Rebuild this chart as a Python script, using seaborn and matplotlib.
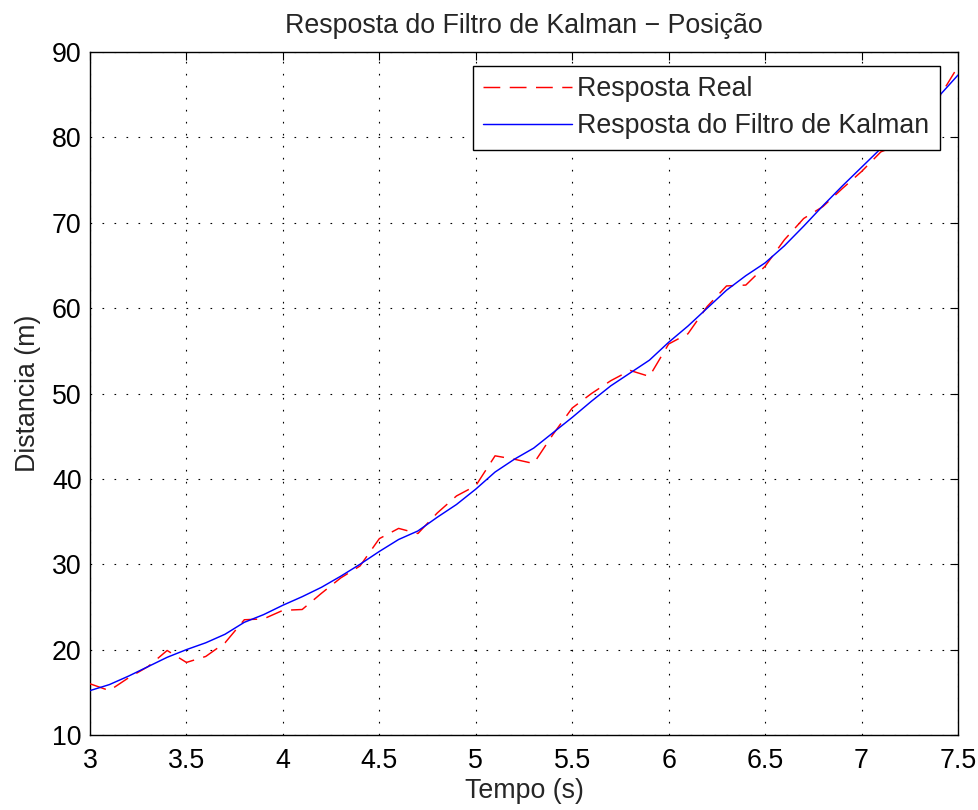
import numpy as np
import pandas as pd
import matplotlib
matplotlib.use("Agg")
import matplotlib.pyplot as plt
import seaborn as sns

# Time samples (s)
tempo = [3.0, 3.1, 3.2, 3.3, 3.4, 3.5, 3.6, 3.7, 3.8, 3.9,
         4.0, 4.1, 4.2, 4.3, 4.4, 4.5, 4.6, 4.7, 4.8, 4.9,
         5.0, 5.1, 5.2, 5.3, 5.4, 5.5, 5.6, 5.7, 5.8, 5.9,
         6.0, 6.1, 6.2, 6.3, 6.4, 6.5, 6.6, 6.7, 6.8, 6.9,
         7.0, 7.1, 7.2, 7.3, 7.4, 7.5]

# Measured position (m)
resposta_real = [16.0, 15.2, 16.7, 18.0, 19.9, 18.5, 19.2, 20.8, 23.5, 23.6,
                 24.6, 24.7, 26.6, 28.4, 29.8, 33.0, 34.2, 33.6, 36.0, 38.0,
                 39.2, 42.7, 42.3, 41.8, 45.2, 48.3, 50.0, 51.5, 52.7, 52.0,
                 55.8, 57.0, 60.2, 62.6, 62.7, 64.9, 68.0, 70.5, 71.9, 74.0,
                 76.0, 78.3, 79.2, 82.3, 84.6, 88.3]

# Kalman filter estimate (m)
resposta_kalman = [15.2, 15.9, 16.9, 18.0, 19.1, 20.0, 20.8, 21.8, 23.2, 24.1,
                   25.2, 26.2, 27.3, 28.6, 30.0, 31.5, 32.9, 33.9, 35.5, 37.0,
                   38.8, 40.8, 42.3, 43.6, 45.4, 47.2, 49.1, 50.9, 52.4, 53.9,
                   56.0, 57.9, 60.0, 62.1, 63.8, 65.3, 67.3, 69.6, 72.0, 74.3,
                   76.5, 78.7, 80.7, 82.6, 84.8, 87.3]

x_ticks = [3, 3.5, 4, 4.5, 5, 5.5, 6, 6.5, 7, 7.5]
x_tick_labels = ["3", "3.5", "4", "4.5", "5", "5.5", "6", "6.5", "7", "7.5"]
y_ticks = [10, 20, 30, 40, 50, 60, 70, 80, 90]

df = pd.DataFrame({"t": tempo, "real": resposta_real, "kalman": resposta_kalman})

sns.set_style("white")
plt.rcParams["font.family"] = ["Liberation Sans", "DejaVu Sans"]
fs = 19.3

fig = plt.figure(figsize=(9.79, 8.10), dpi=100)
ax = fig.add_axes([90 / 979, 1 - 735 / 810, 868 / 979, 683 / 810])

sns.lineplot(data=df, x="t", y="real", ax=ax, color="#ff0000", linewidth=1.05,
             linestyle=(0, (11.5, 6.5)), label="Resposta Real", zorder=3)
sns.lineplot(data=df, x="t", y="kalman", ax=ax, color="#0000ff", linewidth=1.05,
             label="Resposta do Filtro de Kalman", zorder=4)

ax.set_xlim(3, 7.5)
ax.set_ylim(10, 90)
ax.set_xticks(x_ticks)
ax.set_xticklabels(x_tick_labels)
ax.set_yticks(y_ticks)

ax.grid(True, color="black", linestyle=(0, (1.5, 9.3)), linewidth=0.8)
ax.set_axisbelow(True)
for sp in ax.spines.values():
    sp.set_visible(True)
    sp.set_color("black")
    sp.set_linewidth(1.0)

ax.tick_params(direction="in", length=6, width=0.8, top=True, right=True,
               labelsize=fs, colors="black")
ax.tick_params(axis="x", pad=9)
ax.tick_params(axis="y", pad=6)

ax.set_xlabel("Tempo (s)", fontsize=fs, labelpad=3)
ax.set_ylabel("Distancia (m)", fontsize=fs, labelpad=8)
ax.set_title("Resposta do Filtro de Kalman \u2212 Posição", fontsize=fs, pad=14)

leg = ax.legend(loc="upper right", bbox_to_anchor=(0.979, 0.9795),
                borderaxespad=0, fontsize=fs, frameon=True, fancybox=False,
                handlelength=3.3, handletextpad=0.22, labelspacing=0.42,
                borderpad=0.38)
leg.get_frame().set_edgecolor("black")
leg.get_frame().set_linewidth(1.0)
leg.get_frame().set_alpha(1)

fig.savefig("out.png", dpi=100)
